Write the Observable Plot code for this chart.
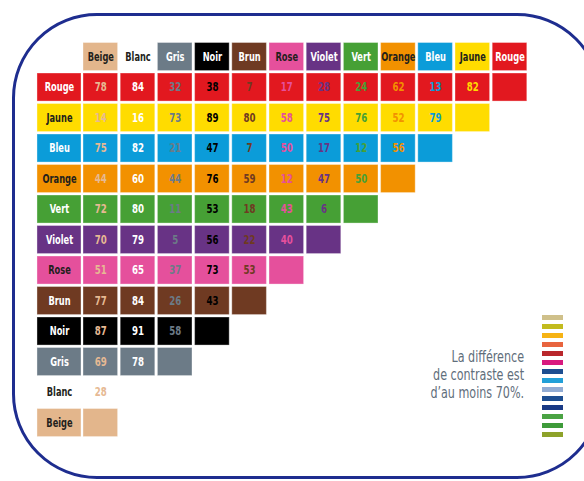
<!DOCTYPE html>
<html>
<head>
<meta charset="utf-8">
<script src="https://cdn.jsdelivr.net/npm/d3@7"></script>
<script src="https://cdn.jsdelivr.net/npm/@observablehq/plot@0.6"></script>
<style>
  html, body { margin: 0; padding: 0; background: #fff; overflow: hidden; width: 584px; height: 481px; }
  #wrap { position: relative; width: 584px; height: 481px; overflow: hidden; }
  #chart { position: absolute; left: 0; top: 0; }
  .frame { position: absolute; left: 12px; top: 13px; width: 590px; height: 466px; border: 3px solid #1e2d8f; border-radius: 85px; box-sizing: border-box; pointer-events: none; }
  #note { position: absolute; right: 60px; top: 348px; text-align: right; font-family: "DejaVu Sans Condensed", "Liberation Sans Narrow", sans-serif; font-size: 15.5px; line-height: 18px; color: #5f6e7b; transform: scaleX(0.8); transform-origin: right top; white-space: nowrap; }
  #stripes { position: absolute; left: 539px; top: 311px; }
</style>
</head>
<body>
<div id="wrap">
  <div id="chart"></div>
  <div class="frame"></div>
  <div id="note">La différence<br>de contraste est<br>d’au moins 70%.</div>
  <div id="stripes"></div>
</div>
<script>
// ---- Data ----
const columns = ["Beige","Blanc","Gris","Noir","Brun","Rose","Violet","Vert","Orange","Bleu","Jaune","Rouge"];
const rowNames = ["Rouge","Jaune","Bleu","Orange","Vert","Violet","Rose","Brun","Noir","Gris","Blanc","Beige"];

const rouge  = [78, 84, 32, 38, 7, 17, 28, 24, 62, 13, 82];
const jaune  = [14, 16, 73, 89, 80, 58, 75, 76, 52, 79];
const bleu   = [75, 82, 21, 47, 7, 50, 17, 12, 56];
const orange = [44, 60, 44, 76, 59, 12, 47, 50];
const vert   = [72, 80, 11, 53, 18, 43, 6];
const violet = [70, 79, 5, 56, 22, 40];
const rose   = [51, 65, 37, 73, 53];
const brun   = [77, 84, 26, 43];
const noir   = [87, 91, 58];
const gris   = [69, 78];
const blanc  = [28];
const beige  = [];

const noteStripes = ["#cfc08a","#c2bb1e","#f6b314","#e8643e","#b9272c","#d8197f","#1d4e91","#22a0d8","#92acd4","#1d4e91","#193a85","#4aa343","#3e9b3a","#8ea22a"];

// ---- Styles ----
const palette = {
  Beige: "#e3b68c", Blanc: "#ffffff", Gris: "#6c7b87", Noir: "#000000", Brun: "#6f3a22",
  Rose: "#e5509c", Violet: "#683385", Vert: "#46a035", Orange: "#f29100", Bleu: "#0b9cd9",
  Jaune: "#ffdc00", Rouge: "#e2181f"
};
const darkLabel = new Set(["Beige","Blanc","Jaune","Orange","Rose"]);
const labelInk = n => darkLabel.has(n) ? "#231f1c" : "#ffffff";
const valueInk = n => n === "Beige" ? "#e6b993" : palette[n];

const rowValues = [rouge, jaune, bleu, orange, vert, violet, rose, brun, noir, gris, blanc, beige];

// ---- Build tables ----
const cells = [];
rowNames.forEach((rn, r) => {
  const vals = rowValues[r];
  for (let c = 0; c <= vals.length; c++) {
    cells.push({row: r, col: c, rowName: rn, colName: columns[c], value: c < vals.length ? vals[c] : null});
  }
});
const headers = columns.map((name, c) => ({col: c, row: -1, name}));
const labels = rowNames.map((name, r) => ({row: r, name}));

// layout in scale units
const W = 0.93, H = 0.92;
const labelX1 = -1.237, labelX2 = -0.054;

const font = '"DejaVu Sans Condensed", "Liberation Sans Narrow", sans-serif';

const chart = Plot.plot({
  width: 584,
  height: 481,
  margin: 0,
  style: {fontFamily: font, background: "transparent"},
  x: {domain: [-83 / 37.2, (584 - 83) / 37.2], range: [0, 584], axis: null},
  y: {domain: [-73 / 30.5, (481 - 73) / 30.5], range: [0, 481], axis: null},
  color: {type: "identity"},
  marks: [
    // header cells
    Plot.rect(headers, {x1: d => d.col, x2: d => d.col + W, y1: d => d.row, y2: d => d.row + H,
      fill: d => palette[d.name], stroke: "#ffffff", strokeOpacity: 0.35}),
    Plot.text(headers, {x: d => d.col + W / 2, y: d => d.row + H / 2, text: "name",
      fill: d => labelInk(d.name), fontWeight: "bold", fontSize: 11.5}),
    // row label cells
    Plot.rect(labels, {x1: labelX1, x2: labelX2, y1: d => d.row, y2: d => d.row + H,
      fill: d => palette[d.name], stroke: "#ffffff", strokeOpacity: 0.35}),
    Plot.text(labels, {x: (labelX1 + labelX2) / 2, y: d => d.row + H / 2, text: "name",
      fill: d => labelInk(d.name), fontWeight: "bold", fontSize: 11.5}),
    // matrix cells
    Plot.rect(cells, {x1: d => d.col, x2: d => d.col + W, y1: d => d.row, y2: d => d.row + H,
      fill: d => palette[d.rowName], stroke: "#ffffff", strokeOpacity: 0.35}),
    Plot.text(cells.filter(d => d.value != null), {x: d => d.col + W / 2, y: d => d.row + H / 2,
      text: d => String(d.value), fill: d => valueInk(d.colName), fontWeight: "bold", fontSize: 12})
  ]
});
document.getElementById("chart").appendChild(chart);

// narrow the type to match the condensed face of the original
chart.querySelectorAll("text").forEach(t => {
  const len = t.getComputedTextLength();
  if (len > 0) {
    t.setAttribute("textLength", (len * 0.8).toFixed(2));
    t.setAttribute("lengthAdjust", "spacingAndGlyphs");
  }
});

const stripes = Plot.plot({
  width: 26,
  height: 130,
  margin: 0,
  x: {axis: null},
  y: {axis: null, padding: 0.4},
  color: {type: "identity"},
  marks: [
    Plot.cell(noteStripes, {x: () => 0, y: (d, i) => i, fill: d => d})
  ]
});
document.getElementById("stripes").appendChild(stripes);
</script>
</body>
</html>
